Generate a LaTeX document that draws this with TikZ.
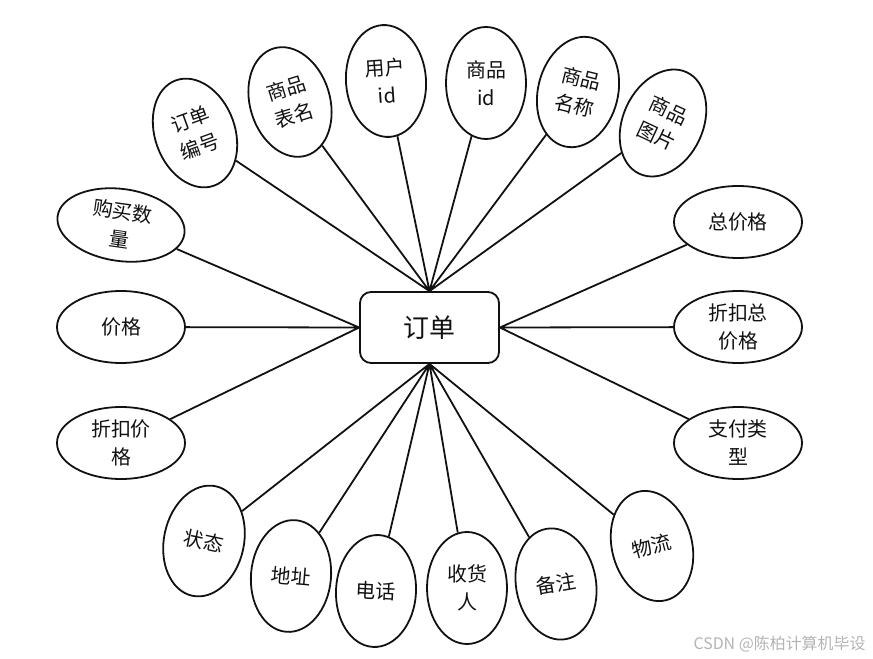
\documentclass[tikz,border=0pt]{standalone}
\usepackage{fontspec}
\setmainfont{Noto Sans CJK SC}
\usetikzlibrary{shapes.geometric}
\definecolor{erink}{HTML}{111111}
\definecolor{ermuted}{HTML}{B4B4B4}
\tikzset{
  attr/.style={ellipse,draw=erink,fill=white,line width=1.8pt,inner sep=0pt,minimum width=80bp,minimum height=112bp,font=\fontsize{20}{28}\selectfont,align=center,text=erink},
  wattr/.style={attr,minimum width=128bp,minimum height=72bp},
  entity/.style={rectangle,rounded corners=11bp,draw=erink,fill=white,line width=1.8pt,minimum width=139bp,minimum height=71bp,font=\fontsize{26}{30}\selectfont,text=erink},
  link/.style={draw=erink,line width=1.8pt},
  wmark/.style={font=\fontsize{16}{18}\selectfont,text=ermuted,anchor=east},
}
\begin{document}
\begin{tikzpicture}[x=1bp,y=-1bp]
  \useasboundingbox (0,0) rectangle (873,659);
  \node[entity] (order) at (429.5,327.5) {订单};
  % top
  \node[attr,rotate=20] (oid) at (195,133) {订单\\编号};
  \node[attr,rotate=17] (tname) at (290,102) {商品\\表名};
  \node[attr,rotate=4] (uid) at (386,81) {用户\\id};
  \node[attr] (gid) at (486,83) {商品\\id};
  \node[attr,rotate=-14] (gname) at (578,92) {商品\\名称};
  \node[attr,rotate=-25] (gimg) at (663,123) {商品\\图片};
  % left
  \node[wattr,rotate=-8] (qty) at (121,225) {购买数\\量};
  \node[wattr] (price) at (121,327) {价格};
  \node[wattr] (dprice) at (121,443) {折扣价\\格};
  % right
  \node[wattr] (total) at (738,222) {总价格};
  \node[wattr] (dtotal) at (738,327) {折扣总\\价格};
  \node[wattr] (pay) at (738,443) {支付类\\型};
  % bottom
  \node[attr,rotate=-12] (state) at (204,541) {状态};
  \node[attr,rotate=-5] (addr) at (291,576) {地址};
  \node[attr,rotate=-3] (tel) at (376,591) {电话};
  \node[attr] (recv) at (467,588) {收货\\人};
  \node[attr,rotate=10] (memo) at (556,584) {备注};
  \node[attr,rotate=15] (ship) at (652,546) {物流};
  \draw[link] (oid)--(order.north) (tname)--(order.north) (uid)--(order.north) (gid)--(order.north) (gname)--(order.north) (gimg)--(order.north);
  \draw[link] (qty)--(order.west) (price)--(order.west) (dprice)--(order.west);
  \draw[link] (total)--(order.east) (dtotal)--(order.east) (pay)--(order.east);
  \draw[link] (state)--(order.south) (addr)--(order.south) (tel)--(order.south) (recv)--(order.south) (memo)--(order.south) (ship)--(order.south);
  \node[wmark] (credit) at (869,644) {CSDN @陈柏计算机毕设};
\end{tikzpicture}
\end{document}
